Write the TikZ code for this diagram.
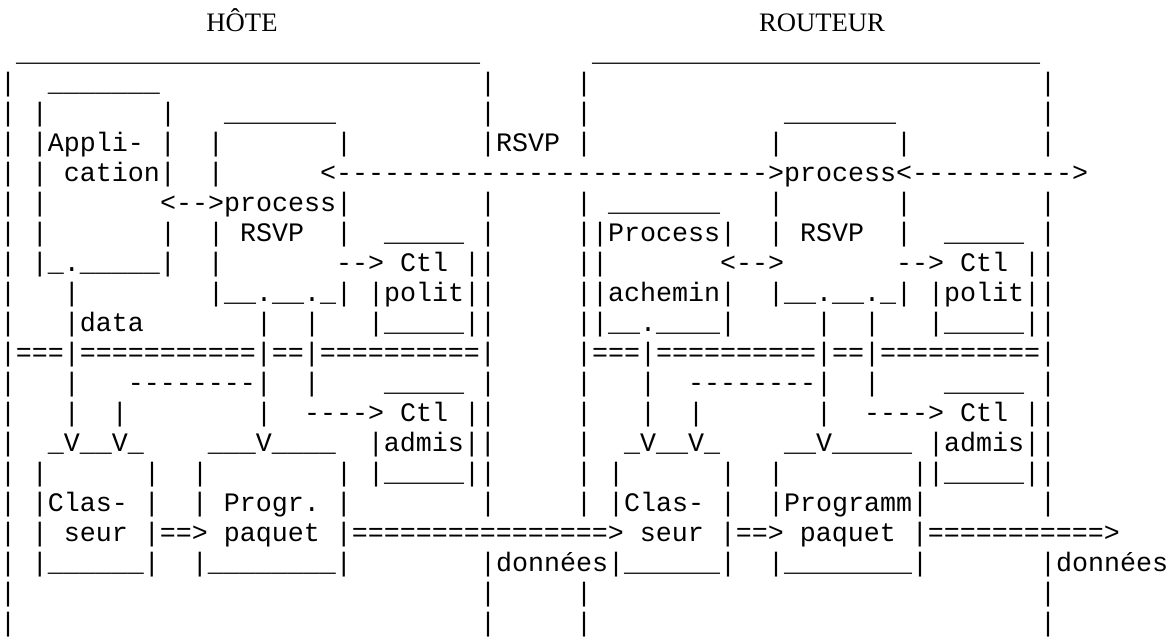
\documentclass[tikz,border=0pt]{standalone}
\usepackage{fontspec}
\setmonofont{Liberation Mono}
\newfontfamily\asTitle{Liberation Serif}
% repeat a character n times
\ExplSyntaxOn
\NewDocumentCommand\asRep{mm}{\prg_replicate:nn{#1}{#2}}
\ExplSyntaxOff
\newcommand\asSp[1]{\asRep{#1}{~}}
\newcommand\asUs[1]{\asRep{#1}{\_}}
\newcommand\asEq[1]{\asRep{#1}{=}}
\newcommand\asDa[1]{\asRep{#1}{-}}
\tikzset{
  ln/.style={anchor=base west, inner sep=0pt, outer sep=0pt,
    font=\ttfamily\fontsize{13.3333pt}{15pt}\selectfont\frenchspacing},
  ttl/.style={anchor=base, inner sep=0pt, outer sep=0pt,
    font=\asTitle\fontsize{13.3333pt}{15pt}\selectfont},
}
\begin{document}
\begin{tikzpicture}[x=0.5pt,y=-0.5pt]
\fill[white] (0,0) rectangle (1172,640);
\useasboundingbox (0,0) rectangle (1172,640);
% titles
\node[ttl] (host) at (242,32) {HÔTE};
\node[ttl] (router) at (822,32) {ROUTEUR};
% one node per text line, 30 units apart
\node[ln] (l01) at (0,62) {\asSp{1}\asUs{29}\asSp{7}\asUs{28}};
\node[ln] (l02) at (0,92) {|\asSp{2}\asUs{7}\asSp{20}|\asSp{5}|\asSp{28}|};
\node[ln] (l03) at (0,122) {|\asSp{1}|\asSp{7}|\asSp{3}\asUs{7}\asSp{9}|\asSp{5}|\asSp{12}\asUs{7}\asSp{9}|};
\node[ln] (l04) at (0,152) {|\asSp{1}|Appli-\asSp{1}|\asSp{2}|\asSp{7}|\asSp{8}|RSVP\asSp{1}|\asSp{11}|\asSp{7}|\asSp{8}|};
\node[ln] (l05) at (0,182) {|\asSp{1}|\asSp{1}cation|\asSp{2}|\asSp{6}<\asDa{27}>process<\asDa{10}>};
\node[ln] (l06) at (0,212) {|\asSp{1}|\asSp{7}<\asDa{2}>process|\asSp{8}|\asSp{5}|\asSp{1}\asUs{7}\asSp{3}|\asSp{7}|\asSp{8}|};
\node[ln] (l07) at (0,242) {|\asSp{1}|\asSp{7}|\asSp{2}|\asSp{1}RSVP\asSp{2}|\asSp{2}\asUs{5}\asSp{1}|\asSp{5}||Process|\asSp{2}|\asSp{1}RSVP\asSp{2}|\asSp{2}\asUs{5}\asSp{1}|};
\node[ln] (l08) at (0,272) {|\asSp{1}|\asUs{1}.\asUs{5}|\asSp{2}|\asSp{7}\asDa{2}>\asSp{1}Ctl\asSp{1}||\asSp{5}||\asSp{7}<\asDa{2}>\asSp{7}\asDa{2}>\asSp{1}Ctl\asSp{1}||};
\node[ln] (l09) at (0,302) {|\asSp{3}|\asSp{8}|\asUs{2}.\asUs{2}.\asUs{1}|\asSp{1}|polit||\asSp{5}||achemin|\asSp{2}|\asUs{2}.\asUs{2}.\asUs{1}|\asSp{1}|polit||};
\node[ln] (l10) at (0,332) {|\asSp{3}|data\asSp{7}|\asSp{2}|\asSp{3}|\asUs{5}||\asSp{5}||\asUs{2}.\asUs{4}|\asSp{5}|\asSp{2}|\asSp{3}|\asUs{5}||};
\node[ln] (l11) at (0,362) {|\asEq{3}|\asEq{11}|\asEq{2}|\asEq{10}|\asSp{5}|\asEq{3}|\asEq{10}|\asEq{2}|\asEq{10}|};
\node[ln] (l12) at (0,392) {|\asSp{3}|\asSp{3}\asDa{8}|\asSp{2}|\asSp{4}\asUs{5}\asSp{1}|\asSp{5}|\asSp{3}|\asSp{2}\asDa{8}|\asSp{2}|\asSp{4}\asUs{5}\asSp{1}|};
\node[ln] (l13) at (0,422) {|\asSp{3}|\asSp{2}|\asSp{8}|\asSp{2}\asDa{4}>\asSp{1}Ctl\asSp{1}||\asSp{5}|\asSp{3}|\asSp{2}|\asSp{7}|\asSp{2}\asDa{4}>\asSp{1}Ctl\asSp{1}||};
\node[ln] (l14) at (0,452) {|\asSp{2}\asUs{1}V\asUs{2}V\asUs{1}\asSp{4}\asUs{3}V\asUs{4}\asSp{2}|admis||\asSp{5}|\asSp{2}\asUs{1}V\asUs{2}V\asUs{1}\asSp{4}\asUs{2}V\asUs{5}\asSp{1}|admis||};
\node[ln] (l15) at (0,482) {|\asSp{1}|\asSp{6}|\asSp{2}|\asSp{8}|\asSp{1}|\asUs{5}||\asSp{5}|\asSp{1}|\asSp{6}|\asSp{2}|\asSp{8}||\asUs{5}||};
\node[ln] (l16) at (0,512) {|\asSp{1}|Clas-\asSp{1}|\asSp{2}|\asSp{1}Progr.\asSp{1}|\asSp{8}|\asSp{5}|\asSp{1}|Clas-\asSp{1}|\asSp{2}|Programm|\asSp{7}|};
\node[ln] (l17) at (0,542) {|\asSp{1}|\asSp{1}seur\asSp{1}|\asEq{2}>\asSp{1}paquet\asSp{1}|\asEq{16}>\asSp{1}seur\asSp{1}|\asEq{2}>\asSp{1}paquet\asSp{1}|\asEq{11}>};
\node[ln] (l18) at (0,572) {|\asSp{1}|\asUs{6}|\asSp{2}|\asUs{8}|\asSp{8}|données|\asUs{6}|\asSp{2}|\asUs{8}|\asSp{7}|données};
\node[ln] (l19) at (0,602) {|\asSp{29}|\asSp{5}|\asSp{28}|};
\node[ln] (l20) at (0,632) {|\asSp{29}|\asSp{5}|\asSp{28}|};
\end{tikzpicture}
\end{document}
